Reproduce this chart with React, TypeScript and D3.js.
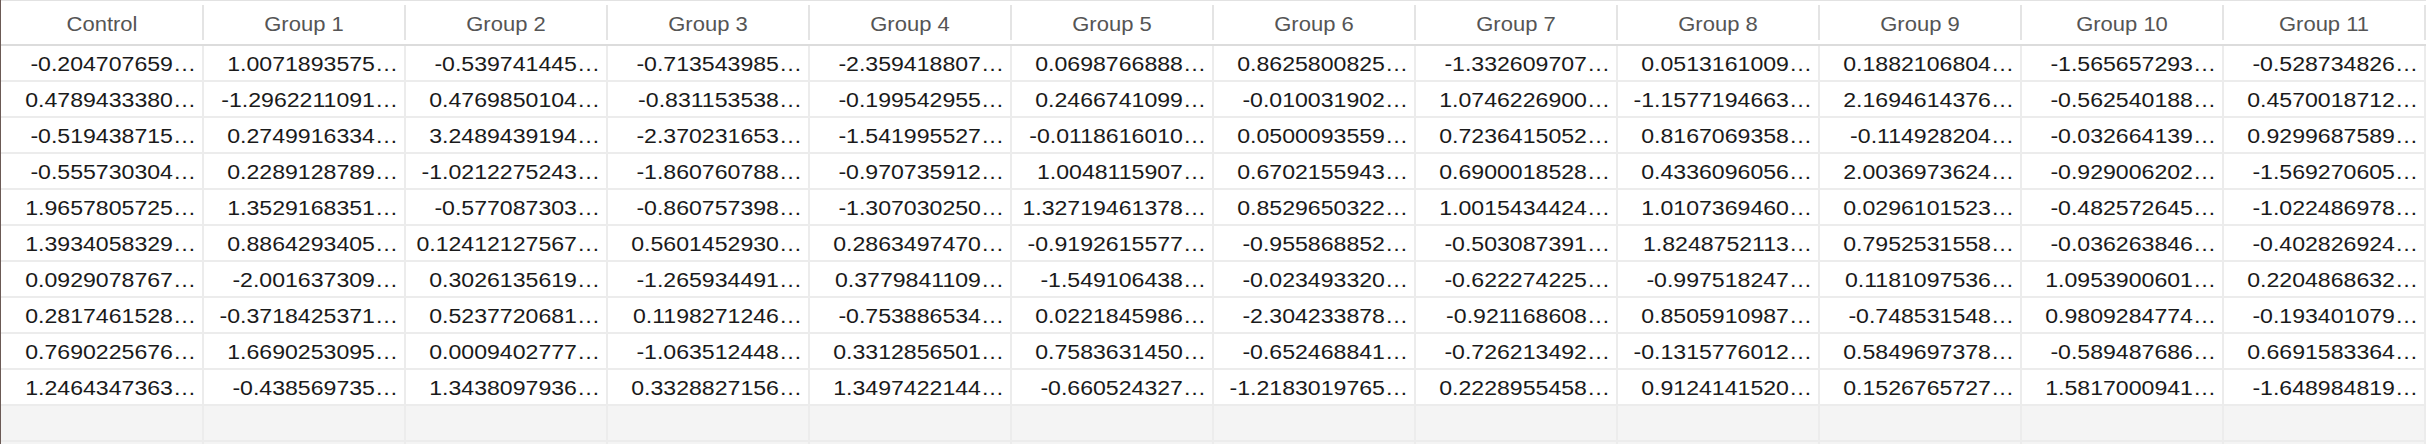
import * as d3 from "d3";

const columns = [
  "Control", "Group 1", "Group 2", "Group 3", "Group 4", "Group 5",
  "Group 6", "Group 7", "Group 8", "Group 9", "Group 10", "Group 11",
];

// cell texts as shown (already truncated by the grid)
const control = ["-0.204707659", "0.4789433380", "-0.519438715", "-0.555730304", "1.9657805725", "1.3934058329", "0.0929078767", "0.2817461528", "0.7690225676", "1.2464347363"];
const group1 = ["1.0071893575", "-1.2962211091", "0.2749916334", "0.2289128789", "1.3529168351", "0.8864293405", "-2.001637309", "-0.3718425371", "1.6690253095", "-0.438569735"];
const group2 = ["-0.539741445", "0.4769850104", "3.2489439194", "-1.0212275243", "-0.577087303", "0.12412127567", "0.3026135619", "0.5237720681", "0.0009402777", "1.3438097936"];
const group3 = ["-0.713543985", "-0.831153538", "-2.370231653", "-1.860760788", "-0.860757398", "0.5601452930", "-1.265934491", "0.1198271246", "-1.063512448", "0.3328827156"];
const group4 = ["-2.359418807", "-0.199542955", "-1.541995527", "-0.970735912", "-1.307030250", "0.2863497470", "0.3779841109", "-0.753886534", "0.3312856501", "1.3497422144"];
const group5 = ["0.0698766888", "0.2466741099", "-0.0118616010", "1.0048115907", "1.32719461378", "-0.9192615577", "-1.549106438", "0.0221845986", "0.7583631450", "-0.660524327"];
const group6 = ["0.8625800825", "-0.010031902", "0.0500093559", "0.6702155943", "0.8529650322", "-0.955868852", "-0.023493320", "-2.304233878", "-0.652468841", "-1.2183019765"];
const group7 = ["-1.332609707", "1.0746226900", "0.7236415052", "0.6900018528", "1.0015434424", "-0.503087391", "-0.622274225", "-0.921168608", "-0.726213492", "0.2228955458"];
const group8 = ["0.0513161009", "-1.1577194663", "0.8167069358", "0.4336096056", "1.0107369460", "1.8248752113", "-0.997518247", "0.8505910987", "-0.1315776012", "0.9124141520"];
const group9 = ["0.1882106804", "2.1694614376", "-0.114928204", "2.0036973624", "0.0296101523", "0.7952531558", "0.1181097536", "-0.748531548", "0.5849697378", "0.1526765727"];
const group10 = ["-1.565657293", "-0.562540188", "-0.032664139", "-0.929006202", "-0.482572645", "-0.036263846", "1.0953900601", "0.9809284774", "-0.589487686", "1.5817000941"];
const group11 = ["-0.528734826", "0.4570018712", "0.9299687589", "-1.569270605", "-1.022486978", "-0.402826924", "0.2204868632", "-0.193401079", "0.6691583364", "-1.648984819"];

const series = [control, group1, group2, group3, group4, group5, group6, group7, group8, group9, group10, group11];

const W = 2426;
const H = 444;
const headerH = 45;
const rowH = 36;
const nRows = 12; // 10 data rows + empty filler rows

const x = d3.scaleBand<number>().domain(d3.range(columns.length)).range([1, 1 + 202 * columns.length]);
const y = d3.scaleBand<number>().domain(d3.range(nRows)).range([headerH, headerH + rowH * nRows]);

const font = "'Liberation Sans', Arial, sans-serif";

export default function App() {
  return (
    <svg width={W} height={H} style={{ position: "absolute", left: 0, top: 0, background: "#fff" }}>
      {/* empty filler rows */}
      {d3.range(10, nRows).map((r) => (
        <rect key={"f" + r} x={0} y={y(r)!} width={W} height={rowH} fill="#f4f4f4" />
      ))}
      <line x1={0} x2={W} y1={0.5} y2={0.5} stroke="#e2e2e2" />
      <line x1={0} x2={W} y1={headerH} y2={headerH} stroke="#dcdcdc" strokeWidth={2} />
      {/* row lines */}
      {d3.range(1, nRows).map((r) => (
        <line key={"r" + r} x1={0} x2={W} y1={y(r)!} y2={y(r)!} stroke="#ececec" strokeWidth={2} />
      ))}
      {/* column lines */}
      {columns.map((c, i) => {
        const cx = x(i)! + x.bandwidth();
        return (
          <g key={"c" + i}>
            <line x1={cx} x2={cx} y1={5} y2={40} stroke="#e4e4e4" strokeWidth={2} />
            <line x1={cx} x2={cx} y1={headerH + 1} y2={H} stroke="#ececec" strokeWidth={2} />
          </g>
        );
      })}
      <line x1={0.5} x2={0.5} y1={0} y2={H} stroke="#6b5a55" />
      {/* header */}
      {columns.map((c, i) => (
        <text
          key={"h" + i}
          transform={`translate(${x(i)! + x.bandwidth() / 2},31) scale(1.1,1)`}
          textAnchor="middle"
          fontFamily={font}
          fontSize={20}
          fill="#555"
        >
          {c}
        </text>
      ))}
      {/* cells */}
      {series.map((vals, i) =>
        vals.map((v, r) => (
          <text
            key={i + "-" + r}
            transform={`translate(${x(i)! + x.bandwidth() - 7},${y(r)! + rowH / 2 + 8}) scale(1.1,1)`}
            textAnchor="end"
            fontFamily={font}
            fontSize={21}
            fill="#1a1a1a"
          >
            {v + "\u2026"}
          </text>
        ))
      )}
    </svg>
  );
}
